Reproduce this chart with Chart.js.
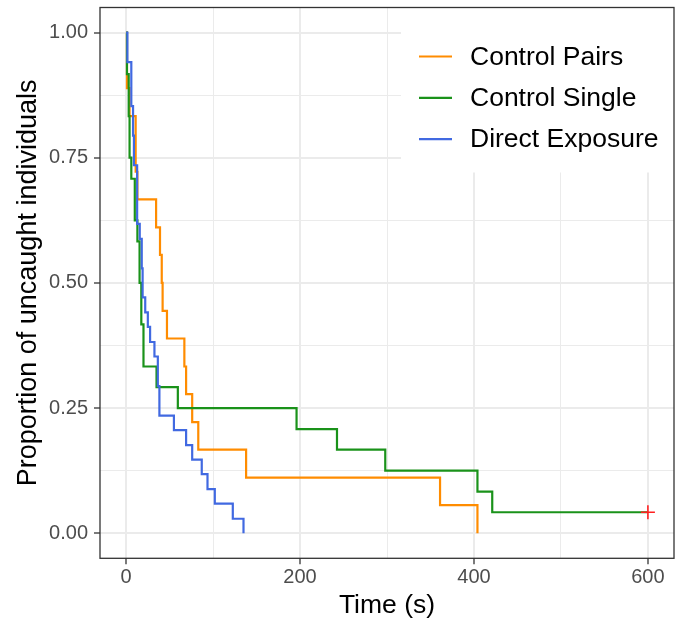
<!DOCTYPE html>
<html>
<head>
<meta charset="utf-8">
<script src="https://cdn.jsdelivr.net/npm/chart.js@4.4.0/dist/chart.umd.min.js"></script>
<style>
  html, body { margin: 0; padding: 0; background: #fff; }
  #wrap { width: 678px; height: 623px; }
</style>
</head>
<body>
<div id="wrap"><canvas id="chart"></canvas></div>
<script>
// Kaplan-Meier steps (time in s, proportion uncaught)
const pairsTime = [0, 1, 4, 11, 13, 34.5, 39, 41, 42, 47, 67, 69, 76, 83, 138, 361, 404];
const pairsSurv = [1, 0.889, 0.833, 0.722, 0.667, 0.611, 0.556, 0.5, 0.444, 0.389, 0.333, 0.278, 0.222, 0.167, 0.111, 0.056, 0];

const singleTime = [0, 1, 3, 4, 6, 10, 13, 15.5, 17.5, 20, 35, 59.5, 196, 242.5, 298, 404, 421, 600];
const singleSurv = [1, 0.917, 0.833, 0.75, 0.708, 0.625, 0.583, 0.5, 0.417, 0.333, 0.292, 0.25, 0.208, 0.167, 0.125, 0.083, 0.042, 0.042];

const directTime = [0, 1.5, 6, 8, 9, 12.7, 15.7, 18, 19, 22, 25, 27.6, 32.6, 36.5, 38.3, 55, 69, 76, 87, 93.6, 102, 122.7, 135];
const directSurv = [1, 0.941, 0.853, 0.794, 0.735, 0.618, 0.588, 0.529, 0.471, 0.441, 0.412, 0.382, 0.353, 0.294, 0.235, 0.206, 0.176, 0.147, 0.118, 0.088, 0.059, 0.029, 0];

// censored observation
const censorTime = [600];
const censorSurv = [0.042];

const seriesNames = ['Control Pairs', 'Control Single', 'Direct Exposure'];
const seriesColors = ['#FF8C00', '#1A921A', '#4169E1'];

const xTicks = [0, 100, 200, 300, 400, 500, 600];
const xLabels = [0, 200, 400, 600];
const yTicks = [0, 0.125, 0.25, 0.375, 0.5, 0.625, 0.75, 0.875, 1];
const yLabels = [0, 0.25, 0.5, 0.75, 1];

const toPoints = (xs, ys) => xs.map((x, i) => ({ x: x, y: ys[i] }));
const isMajor = (list, v) => list.some(l => Math.abs(l - v) < 1e-9);

function stepSet(i, xs, ys) {
  return {
    label: seriesNames[i],
    data: toPoints(xs, ys),
    showLine: true,
    stepped: true,
    borderColor: seriesColors[i],
    backgroundColor: seriesColors[i],
    borderWidth: 2.2,
    pointRadius: 0,
    fill: false,
    order: 3 - i
  };
}

// legend inside the panel, top-right, and the panel border
const panelPlugin = {
  id: 'panel',
  afterDatasetsDraw(chart) {
    const { ctx, chartArea } = chart;
    const boxLeft = chartArea.left + 301;
    const boxTop = chartArea.top;
    const boxBottom = chartArea.top + 165;
    ctx.save();
    ctx.fillStyle = '#fff';
    ctx.fillRect(boxLeft, boxTop, chartArea.right - boxLeft, boxBottom - boxTop);
    ctx.font = '26.5px "Liberation Sans", Arial, sans-serif';
    ctx.textBaseline = 'middle';
    ctx.fillStyle = '#000';
    seriesNames.forEach((name, i) => {
      const y = chartArea.top + 49 + i * 41.3;
      ctx.strokeStyle = seriesColors[i];
      ctx.lineWidth = 2.2;
      ctx.beginPath();
      ctx.moveTo(boxLeft + 18, y);
      ctx.lineTo(boxLeft + 51, y);
      ctx.stroke();
      ctx.fillText(name, boxLeft + 69, y + 1);
    });
    ctx.restore();
  },
  afterDraw(chart) {
    const { ctx, chartArea } = chart;
    ctx.save();
    ctx.strokeStyle = '#333333';
    ctx.lineWidth = 1.3;
    ctx.strokeRect(chartArea.left, chartArea.top, chartArea.right - chartArea.left, chartArea.bottom - chartArea.top);
    ctx.restore();
  }
};

const tickFont = { family: '"Liberation Sans", Arial, sans-serif', size: 20 };

new Chart(document.getElementById('chart'), {
  type: 'scatter',
  data: {
    datasets: [
      stepSet(0, pairsTime, pairsSurv),
      stepSet(1, singleTime, singleSurv),
      stepSet(2, directTime, directSurv),
      {
        label: 'censor',
        data: toPoints(censorTime, censorSurv),
        pointStyle: 'cross',
        pointRadius: 7,
        borderColor: '#FF2020',
        borderWidth: 1.6,
        showLine: false,
        order: 0
      }
    ]
  },
  options: {
    responsive: true,
    maintainAspectRatio: false,
    animation: false,
    layout: { autoPadding: false, padding: { top: 7.5, left: 0, right: 4, bottom: 0 } },
    plugins: {
      legend: { display: false },
      tooltip: { enabled: false }
    },
    scales: {
      x: {
        type: 'linear',
        min: -30,
        max: 630,
        afterFit: scale => {
          scale.height = 64.7;
          scale.paddingLeft = 0;
          scale.paddingRight = 0;
        },
        afterBuildTicks: scale => { scale.ticks = xTicks.map(v => ({ value: v })); },
        border: { display: false },
        grid: {
          color: '#EBEBEB',
          lineWidth: ctx => isMajor(xLabels, ctx.tick.value) ? 2 : 1,
          tickColor: ctx => isMajor(xLabels, ctx.tick.value) ? '#333333' : 'rgba(0,0,0,0)',
          tickWidth: 1.3,
          tickLength: 6
        },
        ticks: {
          autoSkip: false,
          maxRotation: 0,
          padding: 1,
          color: '#4D4D4D',
          font: tickFont,
          callback: v => isMajor(xLabels, v) ? String(v) : ''
        },
        title: {
          display: true,
          text: 'Time (s)',
          color: '#000',
          font: { family: '"Liberation Sans", Arial, sans-serif', size: 26.5 },
          padding: { top: 0, bottom: 1 }
        }
      },
      y: {
        min: -0.05,
        max: 1.05,
        afterFit: scale => {
          scale.width = 100;
          scale.paddingTop = 0;
          scale.paddingBottom = 0;
        },
        afterBuildTicks: scale => { scale.ticks = yTicks.map(v => ({ value: v })); },
        border: { display: false },
        grid: {
          color: '#EBEBEB',
          lineWidth: ctx => isMajor(yLabels, ctx.tick.value) ? 2 : 1,
          tickColor: ctx => isMajor(yLabels, ctx.tick.value) ? '#333333' : 'rgba(0,0,0,0)',
          tickWidth: 1.3,
          tickLength: 6
        },
        ticks: {
          autoSkip: false,
          padding: 6,
          color: '#4D4D4D',
          font: tickFont,
          callback: v => isMajor(yLabels, v) ? v.toFixed(2) : ''
        },
        title: {
          display: true,
          text: 'Proportion of uncaught individuals',
          color: '#000',
          font: { family: '"Liberation Sans", Arial, sans-serif', size: 27 },
          padding: { top: 12, bottom: 0 }
        }
      }
    }
  },
  plugins: [panelPlugin]
});
</script>
</body>
</html>
